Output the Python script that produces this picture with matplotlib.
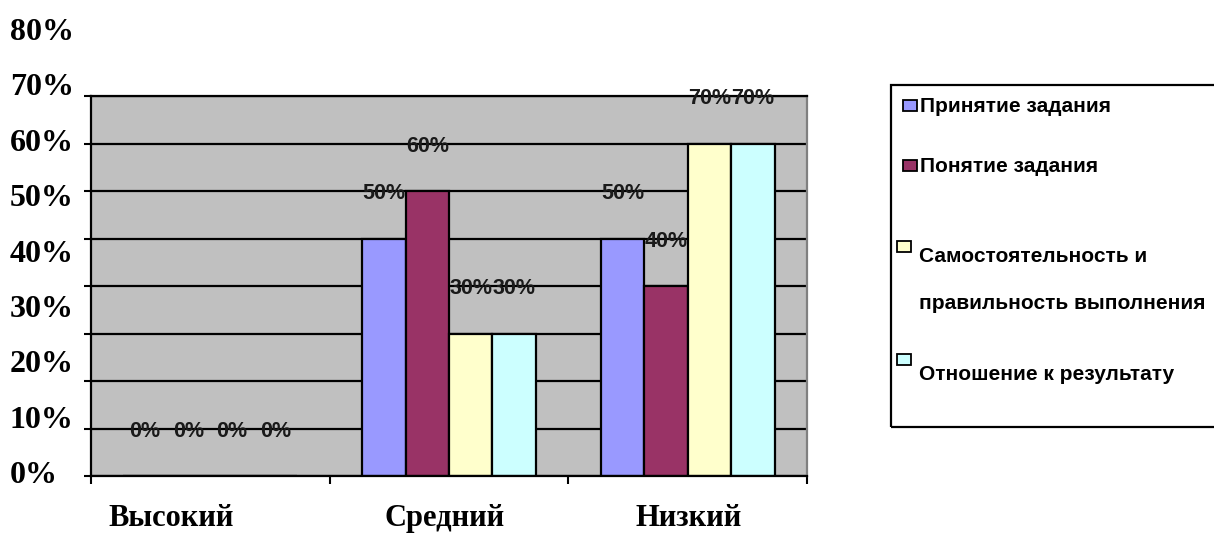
import matplotlib
matplotlib.use('Agg')
import matplotlib.pyplot as plt
import matplotlib.transforms as mtransforms
from matplotlib.patches import Rectangle
import numpy as np

categories = ['Высокий', 'Средний', 'Низкий']
series = ['Принятие задания', 'Понятие задания',
          'Самостоятельность и правильность выполнения', 'Отношение к результату']
values = [
    [0, 50, 50],   # Принятие задания
    [0, 60, 40],   # Понятие задания
    [0, 30, 70],   # Самостоятельность и правильность выполнения
    [0, 30, 70],   # Отношение к результату
]
y_ticks = [0, 10, 20, 30, 40, 50, 60, 70, 80]
colors = ['#9999FF', '#993366', '#FFFFCC', '#CCFFFF']

W, H = 1214, 535
fig = plt.figure(figsize=(W / 100, H / 100), dpi=100)

def fx(px):
    return px / W

def fy(py):
    return (H - py) / H

# main plot area
ax = fig.add_axes([fx(91), fy(476), fx(807) - fx(91), fy(96) - fy(476)])
ax.set_facecolor('#C0C0C0')
ax.set_xlim(-0.5, 2.5)
ax.set_ylim(0, 80)

for v in y_ticks:
    ax.axhline(v, color='black', lw=1.6, zorder=1)

x = np.arange(len(categories))
w = 0.182
for i, (name, vals) in enumerate(zip(series, values)):
    xs = x + (i - 1.5) * w
    ax.bar(xs, vals, width=w, color=colors[i], edgecolor='black', lw=1.6, zorder=2)
    for xx, v in zip(xs, vals):
        ax.text(xx, v + 9.4, f'{v}%', ha='center', va='center', fontsize=15.5,
                fontweight='bold', family='Liberation Sans', color='#1a1a1a', zorder=3)

ax.set_yticks(y_ticks)
ax.set_yticklabels([])
ax.tick_params(axis='y', length=5, width=1.5, direction='out')
ax.set_xticks([-0.5, 0.5, 1.5, 2.5])
ax.set_xticklabels([])
ax.tick_params(axis='x', length=6, width=1.5, direction='out')
for s in ax.spines.values():
    s.set_linewidth(1.6)
ax.spines['right'].set_color('#808080')

# category names under the axis (nudged in pixels like the original)
nudge = [-39, -4, 1]
xlab_tr = mtransforms.blended_transform_factory(ax.transData, fig.transFigure)
for xi, name, dx in zip(x, categories, nudge):
    tr = mtransforms.offset_copy(xlab_tr, fig=fig, x=dx, y=0, units='dots')
    ax.text(xi, fy(526), name, transform=tr, ha='center', va='baseline',
            fontsize=22, fontweight='bold', family='Liberation Serif', clip_on=False)

# value labels on the left (drawn on their own scale, as in the original)
lab = fig.add_axes([fx(10), fy(472), 0.001, fy(29) - fy(472)])
lab.set_ylim(0, 80)
lab.set_yticks(y_ticks)
lab.set_yticklabels([f'{v}%' for v in y_ticks], fontsize=23, fontweight='bold',
                    family='Liberation Serif')
for t in lab.get_yticklabels():
    t.set_horizontalalignment('left')
lab.tick_params(axis='y', length=0, pad=0)
lab.set_xticks([])
lab.patch.set_visible(False)
for s in lab.spines.values():
    s.set_visible(False)

# legend box
fig.add_artist(Rectangle((fx(891), fy(427)), fx(1216) - fx(891), fy(85) - fy(427),
                         transform=fig.transFigure, fill=False, lw=1.6, ec='black'))
# (marker left, marker center y, text baselines)
entries = [
    (903, 105, [(920, 112, 'Принятие задания')]),
    (903, 165, [(920, 172, 'Понятие задания')]),
    (897, 246, [(919, 262, 'Самостоятельность и'), (919, 309, 'правильность выполнения')]),
    (897, 359, [(919, 380, 'Отношение к результату')]),
]
for (mx, my, lines), c in zip(entries, colors):
    fig.add_artist(Rectangle((fx(mx), fy(my + 6)), fx(14), 11 / H,
                             transform=fig.transFigure, fc=c, ec='black', lw=1.3))
    for tx, ty, t in lines:
        fig.text(fx(tx), fy(ty), t, fontsize=15, fontweight='bold',
                 family='Liberation Sans', va='baseline', ha='left')

fig.savefig('out.png', dpi=100)
